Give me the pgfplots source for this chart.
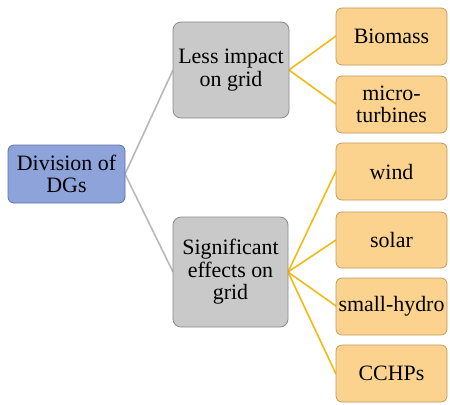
\documentclass[border=0pt]{standalone}
\usepackage{pgfplots}
\pgfplotsset{compat=1.18}
\usepackage{fontspec}
\setmainfont{Liberation Serif}
\newfontfamily\tnr{Liberation Serif}
\definecolor{bluefill}{HTML}{8FA3DB}
\definecolor{blueedge}{HTML}{5F6FA6}
\definecolor{grayfill}{HTML}{C9C9C9}
\definecolor{grayedge}{HTML}{8A8A8A}
\definecolor{orfill}{HTML}{FBD38E}
\definecolor{oredge}{HTML}{BF9A5A}
\definecolor{goldline}{HTML}{F2BA12}
\definecolor{grayline}{HTML}{B8B8B8}
\begin{document}
\begin{tikzpicture}
\begin{axis}[
  scale only axis, width=450bp, height=404bp,
  xmin=0, xmax=450, ymin=0, ymax=404, y dir=reverse,
  axis lines=none, clip=false,
]
\path (axis cs:0,0) rectangle (axis cs:450,404);
% connector lines
\addplot[grayline, line width=1.6pt] coordinates {(125,174) (173,70)};
\addplot[grayline, line width=1.6pt] coordinates {(125,174) (173,272)};
\addplot[goldline, line width=1.6pt] coordinates {(289,70) (336,36)};
\addplot[goldline, line width=1.6pt] coordinates {(289,70) (336,104)};
\addplot[goldline, line width=1.6pt] coordinates {(288,272) (336,171)};
\addplot[goldline, line width=1.6pt] coordinates {(288,272) (336,240)};
\addplot[goldline, line width=1.6pt] coordinates {(288,272) (336,306)};
\addplot[goldline, line width=1.6pt] coordinates {(288,272) (336,374)};
% boxes
\draw[rounded corners=6bp, fill=bluefill, draw=blueedge, line width=0.8pt] (axis cs:8,145) rectangle (axis cs:125,203);
\draw[rounded corners=8bp, fill=grayfill, draw=grayedge, line width=0.8pt] (axis cs:173,22) rectangle (axis cs:289,118);
\draw[rounded corners=8bp, fill=grayfill, draw=grayedge, line width=0.8pt] (axis cs:173,217) rectangle (axis cs:288,327);
\draw[rounded corners=6bp, fill=orfill, draw=oredge, line width=0.8pt] (axis cs:336,8) rectangle (axis cs:447,65);
\draw[rounded corners=6bp, fill=orfill, draw=oredge, line width=0.8pt] (axis cs:336,76) rectangle (axis cs:447,133);
\draw[rounded corners=6bp, fill=orfill, draw=oredge, line width=0.8pt] (axis cs:336,143) rectangle (axis cs:447,200);
\draw[rounded corners=6bp, fill=orfill, draw=oredge, line width=0.8pt] (axis cs:336,212) rectangle (axis cs:447,268);
\draw[rounded corners=6bp, fill=orfill, draw=oredge, line width=0.8pt] (axis cs:336,278) rectangle (axis cs:447,335);
\draw[rounded corners=6bp, fill=orfill, draw=oredge, line width=0.8pt] (axis cs:336,345) rectangle (axis cs:447,402);
% labels
\tikzset{lbl/.style={align=center, font=\tnr\fontsize{22}{22.5}\selectfont, inner sep=0pt}}
\node[lbl] at (axis cs:66.5,174) {Division of\\DGs};
\node[lbl] at (axis cs:231,70) {Less impact\\on grid};
\node[lbl] at (axis cs:230.5,272) {Significant\\effects on\\grid};
\node[lbl] at (axis cs:391.5,36.5) {Biomass};
\node[lbl] at (axis cs:391.5,104.5) {micro-\\turbines};
\node[lbl] at (axis cs:391.5,171.5) {wind};
\node[lbl] at (axis cs:391.5,240) {solar};
\node[lbl] at (axis cs:391.5,306.5) {small-hydro};
\node[lbl] at (axis cs:391.5,373.5) {CCHPs};
\end{axis}
\end{tikzpicture}
\end{document}
